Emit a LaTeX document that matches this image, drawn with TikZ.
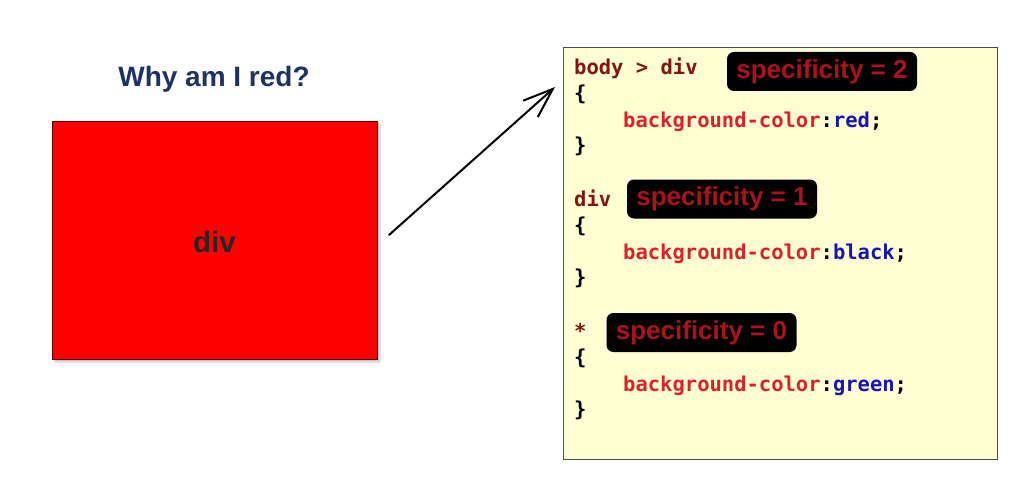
\documentclass[tikz,border=0pt]{standalone}
\usepackage{fontspec}
\setmainfont{Liberation Sans}
\newfontfamily\codefont{DejaVu Sans Mono}
\usetikzlibrary{arrows.meta}
\definecolor{navy}{RGB}{31,50,100}
\definecolor{panel}{RGB}{255,255,212}
\definecolor{selred}{RGB}{130,20,20}
\definecolor{propred}{RGB}{222,32,42}
\definecolor{valblue}{RGB}{22,22,180}
\definecolor{badgered}{RGB}{172,18,30}
\newcommand{\decl}[1]{\textcolor{propred}{background-color}\textcolor{black}{:}\textcolor{valblue}{#1}\textcolor{black}{;}}
\begin{document}
\begin{tikzpicture}[x=1pt,y=-1pt,
  code/.style={anchor=base west, inner sep=0pt,
    font=\codefont\bfseries\fontsize{20.5}{24}\selectfont},
  badge/.style={fill=black, rounded corners=7pt, text=badgered, inner sep=0pt,
    minimum width=190pt, minimum height=39pt,
    font=\bfseries\fontsize{26}{30}\selectfont},
  heading/.style={anchor=base, inner sep=0pt, font=\bfseries\fontsize{28}{32}\selectfont},
]
\fill[white] (0,0) rectangle (1025,492);
\useasboundingbox (0,0) rectangle (1025,492);

% the red div with its soft shadow
\fill[black!12] (55,124) rectangle (381,363);
\fill[black!22] (54,123) rectangle (379,361);
\node[draw=black!60!red, fill=red, line width=0.8pt, inner sep=0pt,
      minimum width=325pt, minimum height=238pt, anchor=north west] (box) at (52,121) {};
\node[heading, text=black!85, font=\bfseries\fontsize{29.5}{32}\selectfont] (divlabel) at (214.5,252) {div};

% title
\node[heading, text=navy] (title) at (214,87) {Why am I red?};

% style sheet panel
\node[draw=black!70, fill=panel, line width=0.8pt, inner sep=0pt,
      minimum width=434pt, minimum height=412pt, anchor=north west] (panel) at (563,47) {};

% rule 1
\node[code, text=selred] (sel1) at (574,75) {body > div};
\node[code] (open1) at (574,101) {\{};
\node[code] (decl1) at (623,127.5) {\decl{red}};
\node[code] (close1) at (574,153) {\}};
% rule 2
\node[code, text=selred] (sel2) at (574,206.5) {div};
\node[code] (open2) at (574,232.5) {\{};
\node[code] (decl2) at (623,259) {\decl{black}};
\node[code] (close2) at (574,284.5) {\}};
% rule 3
\node[code, text=selred] (sel3) at (574,338.5) {*};
\node[code] (open3) at (574,364.5) {\{};
\node[code] (decl3) at (623,391) {\decl{green}};
\node[code] (close3) at (574,416.5) {\}};

% specificity badges
\node[badge] (spec2) at (822,71.5) {specificity = 2};
\node[badge] (spec1) at (722,199) {specificity = 1};
\node[badge] (spec0) at (701.5,332.5) {specificity = 0};

% arrow from the div to the winning rule
\coordinate (from) at (389,235);
\coordinate (to) at (555,87);
\draw[line width=2pt, line cap=round,
      -{Straight Barb[length=30pt,width=22pt,line width=2pt]}] (from) -- (to);
\end{tikzpicture}
\end{document}
